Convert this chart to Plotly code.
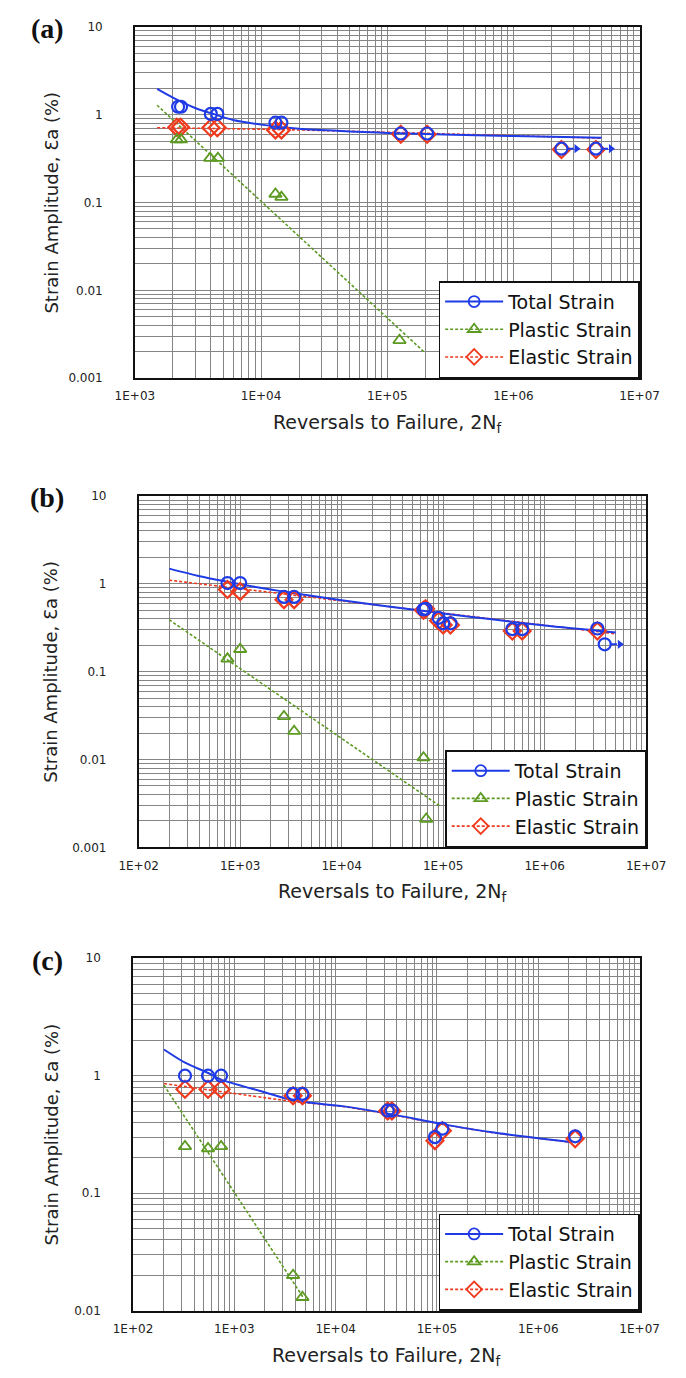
import math
import plotly.graph_objects as go

W, H = 686, 1378

# ---------------- data ----------------
# Panel (a)
A_TOTAL_X = [2200, 2320, 4000, 4500, 13000, 14500, 128000, 207000, 2.4e6, 4.5e6]
A_TOTAL_Y = [1.23, 1.23, 1.02, 1.02, 0.81, 0.81, 0.61, 0.61, 0.41, 0.41]
A_ELASTIC_X = [2150, 2300, 4000, 4500, 13000, 14500, 128000, 207000, 2.4e6, 4.5e6]
A_ELASTIC_Y = [0.72, 0.72, 0.71, 0.71, 0.67, 0.67, 0.60, 0.60, 0.40, 0.40]
A_PLASTIC_X = [2150, 2320, 3950, 4550, 13000, 14500, 125000]
A_PLASTIC_Y = [0.52, 0.52, 0.32, 0.32, 0.125, 0.115, 0.0027]
A_FIT_TOTAL_X = [1500, 2000, 3000, 4000, 6000, 10000, 20000, 50000, 1e5, 1e6, 5e6]
A_FIT_TOTAL_Y = [1.96, 1.56, 1.19, 1.04, 0.87, 0.77, 0.69, 0.645, 0.62, 0.57, 0.545]
A_FIT_PLASTIC_X = [1500, 195000]
A_FIT_PLASTIC_Y = [1.28, 0.002]
A_FIT_ELASTIC_X = [1500, 15000, 5e6]
A_FIT_ELASTIC_Y = [0.71, 0.675, 0.54]
A_RUNOUT_X = [2.4e6, 4.5e6]
A_RUNOUT_Y = [0.41, 0.41]
A_X_TICKS = ["1E+03", "1E+04", "1E+05", "1E+06", "1E+07"]
A_Y_TICKS = ["0.001", "0.01", "0.1", "1", "10"]

# Panel (b)
B_TOTAL_X = [750, 1000, 2700, 3400, 64000, 67000, 90000, 100000, 118000, 480000, 600000, 3.3e6, 3.9e6]
B_TOTAL_Y = [1.02, 1.02, 0.71, 0.71, 0.51, 0.52, 0.41, 0.355, 0.355, 0.305, 0.305, 0.31, 0.205]
B_ELASTIC_X = [750, 1000, 2700, 3400, 64000, 67000, 90000, 100000, 118000, 480000, 600000, 3.3e6]
B_ELASTIC_Y = [0.86, 0.82, 0.66, 0.66, 0.50, 0.52, 0.38, 0.34, 0.34, 0.29, 0.29, 0.29]
B_PLASTIC_X = [750, 1000, 2700, 3400, 64000, 68000]
B_PLASTIC_Y = [0.14, 0.18, 0.031, 0.021, 0.0105, 0.0021]
B_FIT_TOTAL_X = [200, 400, 700, 1000, 2000, 3000, 5000, 1e4, 3e4, 1e5, 3e5, 1e6, 5e6]
B_FIT_TOTAL_Y = [1.49, 1.22, 1.07, 0.99, 0.86, 0.80, 0.73, 0.65, 0.55, 0.46, 0.395, 0.335, 0.28]
B_FIT_PLASTIC_X = [200, 95000]
B_FIT_PLASTIC_Y = [0.39, 0.0029]
B_FIT_ELASTIC_X = [200, 5e6]
B_FIT_ELASTIC_Y = [1.10, 0.27]
B_RUNOUT_X = [3.9e6]
B_RUNOUT_Y = [0.205]
B_X_TICKS = ["1E+02", "1E+03", "1E+04", "1E+05", "1E+06", "1E+07"]
B_Y_TICKS = ["0.001", "0.01", "0.1", "1", "10"]

# Panel (c)
C_TOTAL_X = [326, 550, 740, 3800, 4700, 32600, 35900, 95500, 113000, 2.31e6]
C_TOTAL_Y = [1.0, 1.0, 1.0, 0.70, 0.70, 0.505, 0.505, 0.30, 0.354, 0.305]
C_ELASTIC_X = [326, 550, 740, 3800, 4700, 32600, 35900, 95500, 113000, 2.31e6]
C_ELASTIC_Y = [0.767, 0.767, 0.767, 0.675, 0.675, 0.50, 0.50, 0.28, 0.34, 0.29]
C_PLASTIC_X = [326, 550, 740, 3800, 4700]
C_PLASTIC_Y = [0.25, 0.24, 0.25, 0.020, 0.013]
C_FIT_TOTAL_X = [202, 326, 546, 733, 1910, 3860, 12100, 34000, 110700, 335000, 2.05e6]
C_FIT_TOTAL_Y = [1.67, 1.29, 1.06, 0.93, 0.73, 0.615, 0.548, 0.473, 0.389, 0.331, 0.273]
C_FIT_PLASTIC_X = [202, 4800]
C_FIT_PLASTIC_Y = [0.83, 0.0129]
C_FIT_ELASTIC_X = [202, 4000, 12100, 34000, 110700, 335000, 2.05e6]
C_FIT_ELASTIC_Y = [0.857, 0.60, 0.545, 0.47, 0.387, 0.33, 0.272]
C_RUNOUT_X = []
C_RUNOUT_Y = []
C_X_TICKS = ["1E+02", "1E+03", "1E+04", "1E+05", "1E+06", "1E+07"]
C_Y_TICKS = ["0.01", "0.1", "1", "10"]

SERIES_NAMES = ["Total Strain", "Plastic Strain", "Elastic Strain"]
PANEL_LABELS = ["(a)", "(b)", "(c)"]

# ---------------- styling ----------------
BLUE = "#1f3be6"
GREEN = "#5c9a22"
RED = "#f03a1e"
GRID = "#858585"
FONT = "DejaVu Sans"

# plot boxes in pixels: left, right, top, bottom
BOXES = [(122, 658, 20, 375), (126, 665, 494, 849), (120, 658, 961, 1317)]


def px_x(p):
    return p / W


def px_y(p):
    return 1 - p / H


panels = [
    dict(tx=A_TOTAL_X, ty=A_TOTAL_Y, ex=A_ELASTIC_X, ey=A_ELASTIC_Y, px=A_PLASTIC_X, py=A_PLASTIC_Y,
         ftx=A_FIT_TOTAL_X, fty=A_FIT_TOTAL_Y, fpx=A_FIT_PLASTIC_X, fpy=A_FIT_PLASTIC_Y,
         fex=A_FIT_ELASTIC_X, fey=A_FIT_ELASTIC_Y, rx=A_RUNOUT_X, ry=A_RUNOUT_Y,
         xt=A_X_TICKS, yt=A_Y_TICKS),
    dict(tx=B_TOTAL_X, ty=B_TOTAL_Y, ex=B_ELASTIC_X, ey=B_ELASTIC_Y, px=B_PLASTIC_X, py=B_PLASTIC_Y,
         ftx=B_FIT_TOTAL_X, fty=B_FIT_TOTAL_Y, fpx=B_FIT_PLASTIC_X, fpy=B_FIT_PLASTIC_Y,
         fex=B_FIT_ELASTIC_X, fey=B_FIT_ELASTIC_Y, rx=B_RUNOUT_X, ry=B_RUNOUT_Y,
         xt=B_X_TICKS, yt=B_Y_TICKS),
    dict(tx=C_TOTAL_X, ty=C_TOTAL_Y, ex=C_ELASTIC_X, ey=C_ELASTIC_Y, px=C_PLASTIC_X, py=C_PLASTIC_Y,
         ftx=C_FIT_TOTAL_X, fty=C_FIT_TOTAL_Y, fpx=C_FIT_PLASTIC_X, fpy=C_FIT_PLASTIC_Y,
         fex=C_FIT_ELASTIC_X, fey=C_FIT_ELASTIC_Y, rx=C_RUNOUT_X, ry=C_RUNOUT_Y,
         xt=C_X_TICKS, yt=C_Y_TICKS),
]


def log_grid(labels):
    lo = round(math.log10(float(labels[0])))
    hi = round(math.log10(float(labels[-1])))
    vals, texts = [], []
    for k in range(lo, hi + 1):
        for d in range(1, 10):
            if k == hi and d > 1:
                break
            vals.append(d * 10 ** k)
            texts.append(labels[k - lo] if d == 1 else "")
    return vals, texts, lo, hi


fig = go.Figure()
layout = dict(
    width=W, height=H, margin=dict(l=0, r=0, t=0, b=0),
    paper_bgcolor="white", plot_bgcolor="white",
    font=dict(family=FONT, color="#222"),
    showlegend=True,
)
annotations = []

for i, p in enumerate(panels):
    n = "" if i == 0 else str(i + 1)
    xa, ya = "x" + n, "y" + n
    leg = "legend" + n
    L, R, T, B = BOXES[i]

    xv, xtxt, xlo, xhi = log_grid(p["xt"])
    yv, ytxt, ylo, yhi = log_grid(p["yt"])
    ppd = (R - L) / (xhi - xlo)  # pixels per decade on the x axis

    common = dict(xaxis=xa, yaxis=ya, legend=leg)
    # fitted lines
    fig.add_trace(go.Scatter(x=p["fex"], y=p["fey"], mode="lines", showlegend=False,
                             line=dict(color=RED, width=1.6, dash="3px,2px", shape="spline", smoothing=0.6), **common))
    fig.add_trace(go.Scatter(x=p["fpx"], y=p["fpy"], mode="lines", showlegend=False,
                             line=dict(color=GREEN, width=1.6, dash="3px,2px"), **common))
    fig.add_trace(go.Scatter(x=p["ftx"], y=p["fty"], mode="lines", showlegend=False,
                             line=dict(color=BLUE, width=2, shape="spline", smoothing=0.8), **common))
    # data points
    fig.add_trace(go.Scatter(x=p["ex"], y=p["ey"], mode="markers", showlegend=False,
                             marker=dict(symbol="diamond-open", size=13, color=RED, line=dict(width=2.2, color=RED)),
                             **common))
    fig.add_trace(go.Scatter(x=p["px"], y=p["py"], mode="markers", showlegend=False,
                             marker=dict(symbol="triangle-up-open", size=11, color=GREEN, line=dict(width=1.8, color=GREEN)),
                             **common))
    fig.add_trace(go.Scatter(x=p["tx"], y=p["ty"], mode="markers", showlegend=False,
                             marker=dict(symbol="circle-open", size=12, color=BLUE, line=dict(width=2.2, color=BLUE)),
                             **common))
    # run-out arrows: short shaft + head just to the right of each run-out point
    if p["rx"]:
        sx, sy = [], []
        for rx, ry in zip(p["rx"], p["ry"]):
            sx += [rx * 10 ** (6 / ppd), rx * 10 ** (13 / ppd), None]
            sy += [ry, ry, None]
        fig.add_trace(go.Scatter(x=sx, y=sy, mode="lines", showlegend=False,
                                 line=dict(color=BLUE, width=2), **common))
        fig.add_trace(go.Scatter(x=[rx * 10 ** (16 / ppd) for rx in p["rx"]], y=p["ry"], mode="markers",
                                 showlegend=False,
                                 marker=dict(symbol="triangle-right", size=8, color=BLUE, line=dict(width=0)),
                                 **common))
    # legend entries
    fig.add_trace(go.Scatter(x=[None], y=[None], mode="lines+markers", name=SERIES_NAMES[0],
                             line=dict(color=BLUE, width=2),
                             marker=dict(symbol="circle-open", size=11, color=BLUE, line=dict(width=1.8)), **common))
    fig.add_trace(go.Scatter(x=[None], y=[None], mode="lines+markers", name=SERIES_NAMES[1],
                             line=dict(color=GREEN, width=1.6, dash="3px,2px"),
                             marker=dict(symbol="triangle-up-open", size=11, color=GREEN, line=dict(width=1.8)), **common))
    fig.add_trace(go.Scatter(x=[None], y=[None], mode="lines+markers", name=SERIES_NAMES[2],
                             line=dict(color=RED, width=1.6, dash="3px,2px"),
                             marker=dict(symbol="diamond-open", size=12, color=RED, line=dict(width=1.8)), **common))

    layout["xaxis" + n] = dict(
        type="log", range=[xlo, xhi], domain=[px_x(L), px_x(R)], anchor=ya,
        tickmode="array", tickvals=xv, ticktext=xtxt, ticks="",
        showgrid=True, gridcolor=GRID, gridwidth=1,
        showline=True, linecolor="#111", linewidth=1.5, mirror=True,
        tickfont=dict(size=12, color="#222", family=FONT), ticklabelstandoff=6,
        zeroline=False,
    )
    layout["yaxis" + n] = dict(
        type="log", range=[ylo, yhi], domain=[px_y(B), px_y(T)], anchor=xa,
        tickmode="array", tickvals=yv, ticktext=ytxt, ticks="",
        showgrid=True, gridcolor=GRID, gridwidth=1,
        showline=True, linecolor="#111", linewidth=1.5, mirror=True,
        tickfont=dict(size=12, color="#222", family=FONT), ticklabelstandoff=28,
        zeroline=False,
    )
    layout[leg] = dict(
        x=px_x(R), y=px_y(B), xanchor="right", yanchor="bottom",
        bgcolor="white", bordercolor="#111", borderwidth=1.5,
        font=dict(size=19, family=FONT, color="#111"),
        itemwidth=58, tracegroupgap=0,
    )

    # axis titles
    annotations.append(dict(
        x=px_x((L + R) / 2), y=px_y(B + 46), xref="paper", yref="paper",
        text="Reversals to Failure, 2N<sub>f</sub>", showarrow=False,
        font=dict(size=19, family=FONT, color="#222"), xanchor="center", yanchor="middle"))
    annotations.append(dict(
        x=px_x(33), y=px_y((T + B) / 2), xref="paper", yref="paper",
        text="Strain Amplitude, Ɛa (%)", showarrow=False, textangle=-90,
        font=dict(size=18, family=FONT, color="#222"), xanchor="center", yanchor="middle"))
    # panel label
    annotations.append(dict(
        x=px_x(29), y=px_y(T + 2), xref="paper", yref="paper",
        text="<b>%s</b>" % PANEL_LABELS[i], showarrow=False,
        font=dict(size=28, family="Liberation Serif", color="#111"), xanchor="center", yanchor="middle"))

layout["annotations"] = annotations
fig.update_layout(**layout)
fig.write_html("out.html", config={"displayModeBar": False},
               post_script="document.body.style.margin='0';document.body.style.overflow='hidden';")
